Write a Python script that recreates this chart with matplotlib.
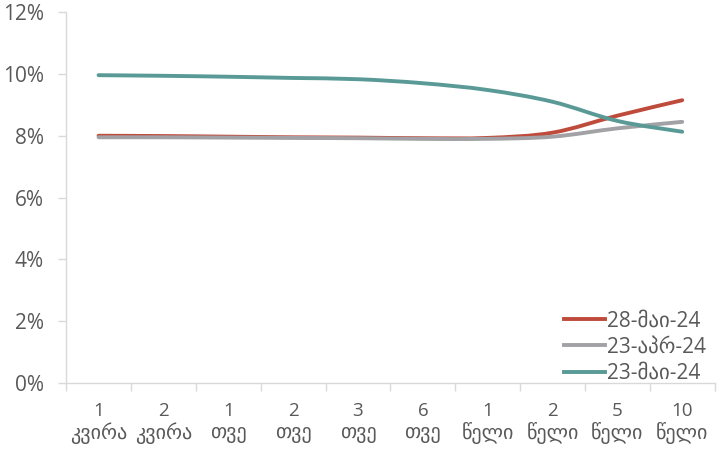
import numpy as np
import matplotlib
matplotlib.use("Agg")
import matplotlib.pyplot as plt
from matplotlib.path import Path
from matplotlib.patches import PathPatch
from matplotlib.lines import Line2D

plt.rcParams['font.family'] = ['Open Sans', 'DejaVu Sans']

# ---- data ----
cat_nums = ["1", "2", "1", "2", "3", "6", "1", "2", "5", "10"]
cat_units = ["კვირა", "კვირა", "თვე", "თვე", "თვე",
             "თვე", "წელი", "წელი", "წელი", "წელი"]
may28 = [8.00, 7.99, 7.97, 7.95, 7.94, 7.92, 7.93, 8.10, 8.65, 9.15]
apr23 = [7.95, 7.95, 7.94, 7.93, 7.92, 7.90, 7.90, 7.97, 8.24, 8.45]
may23 = [9.96, 9.94, 9.91, 9.87, 9.83, 9.70, 9.48, 9.10, 8.48, 8.13]

series_names = ["28-მაი-24", "23-აპრ-24", "23-მაი-24"]
colors = ["#BE4B3B", "#A2A2A6", "#5A9A96"]

TEXT = "#595959"
AXIS = "#D9D9D9"


def smooth_path(x, y, t=1/6):
    # Excel-like smoothed line: cubic bezier segments with catmull-rom tangents
    verts = [(x[0], y[0])]
    codes = [Path.MOVETO]
    n = len(x)
    for i in range(n - 1):
        x0, y0 = x[max(i - 1, 0)], y[max(i - 1, 0)]
        x1, y1 = x[i], y[i]
        x2, y2 = x[i + 1], y[i + 1]
        x3, y3 = x[min(i + 2, n - 1)], y[min(i + 2, n - 1)]
        c1 = (x1 + (x2 - x0) * t, y1 + (y2 - y0) * t)
        c2 = (x2 - (x3 - x1) * t, y2 - (y3 - y1) * t)
        verts += [c1, c2, (x2, y2)]
        codes += [Path.CURVE4] * 3
    return Path(verts, codes)


fig, ax = plt.subplots(figsize=(7.27, 4.5), dpi=100)
fig.subplots_adjust(left=0.091, right=0.983, top=0.973, bottom=0.149)

xs = np.arange(len(cat_nums))
handles = []
for vals, name, c in zip([may28, apr23, may23], series_names, colors):
    p = smooth_path(list(xs), [v / 100 for v in vals])
    ax.add_patch(PathPatch(p, facecolor="none", edgecolor=c, lw=2.8,
                           capstyle="round"))
    handles.append(Line2D([], [], color=c, lw=2.8, label=name))

ax.set_xlim(-0.5, len(cat_nums) - 0.5)
ax.set_ylim(0, 0.12)
yt = np.arange(0, 0.121, 0.02)
ax.set_yticks(yt)
ax.set_yticklabels([f"{int(round(v * 100))}%" for v in yt])

ax.set_xticks(xs)
ax.set_xticklabels(cat_nums)
ax.set_xticks(np.arange(-0.5, len(cat_nums)), minor=True)
ax.tick_params(axis="x", which="major", length=0, pad=14, labelsize=13.5,
               labelcolor=TEXT)
ax.tick_params(axis="x", which="minor", length=6, color=AXIS, width=1)
ax.tick_params(axis="y", length=6, color=AXIS, width=1, labelsize=15,
               labelcolor=TEXT, pad=10)

# second line of the category labels (Georgian words)
for x, u in zip(xs, cat_units):
    ax.text(x, -0.135, u, transform=ax.get_xaxis_transform(), ha="center",
            va="center", fontsize=14.5, color=TEXT, family="DejaVu Sans")

for s in ["top", "right"]:
    ax.spines[s].set_visible(False)
for s in ["left", "bottom"]:
    ax.spines[s].set_color(AXIS)
    ax.spines[s].set_linewidth(1)

leg = ax.legend(handles=handles, loc="lower right", frameon=False,
                fontsize=15, handlelength=2.0, handletextpad=0.1,
                labelspacing=0.25, borderaxespad=0.0,
                bbox_to_anchor=(1.0, -0.025))
for t in leg.get_texts():
    t.set_color(TEXT)

fig.savefig("out.png", dpi=100)
